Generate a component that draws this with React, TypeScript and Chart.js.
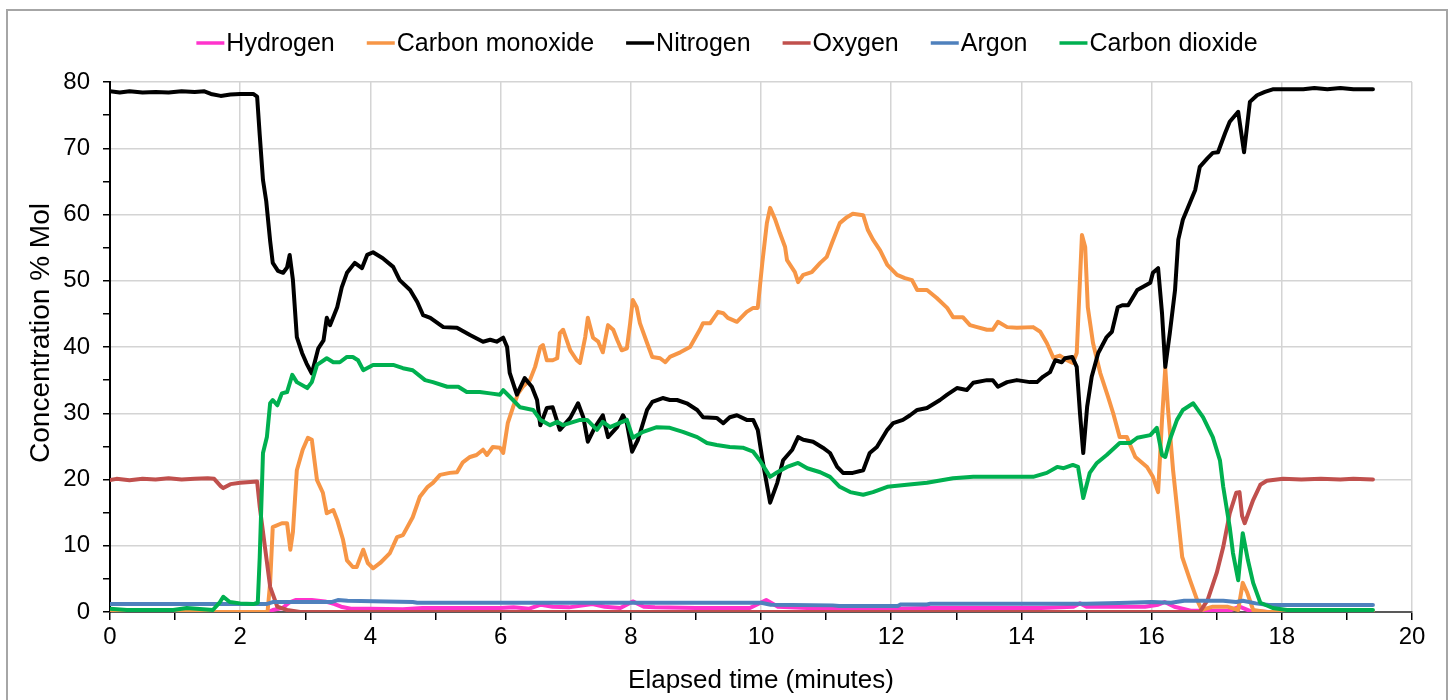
import React, { useEffect, useRef } from "react";
import { Chart, registerables } from "chart.js";

Chart.register(...registerables);

type Pt = [number, number];

const seriesNames = ["Hydrogen", "Carbon monoxide", "Nitrogen", "Oxygen", "Argon", "Carbon dioxide"];
const seriesColors = ["#ff33cc", "#f79646", "#000000", "#c0504d", "#4f81bd", "#00b050"];

const xTickLabels = ["0", "2", "4", "6", "8", "10", "12", "14", "16", "18", "20"];
const yTickLabels = ["0", "10", "20", "30", "40", "50", "60", "70", "80"];
const xAxisTitle = "Elapsed time (minutes)";
const yAxisTitle = "Concentration % Mol";

const hydrogen: Pt[] = [
  [0, 0], [2.42, 0], [2.5, 0.3], [2.65, 0.6], [2.75, 1.4], [2.85, 1.8], [3.1, 1.8], [3.3, 1.6], [3.45, 1.2],
  [3.55, 0.8], [3.7, 0.5], [4.0, 0.5], [4.5, 0.4], [4.8, 0.6], [5.5, 0.6], [6.0, 0.6], [6.2, 0.7], [6.44, 0.5],
  [6.62, 1.1], [6.8, 0.8], [7.05, 0.7], [7.41, 1.2], [7.6, 0.8], [7.84, 0.6], [8.03, 1.6], [8.2, 0.8], [8.37, 0.7],
  [9.0, 0.6], [9.83, 0.6], [10.08, 1.8], [10.26, 0.8], [10.98, 0.5], [11.78, 0.4], [12.5, 0.6], [13.7, 0.6],
  [14.3, 0.6], [14.8, 0.8], [14.9, 1.3], [15.0, 0.8], [15.9, 0.8], [16.1, 1.1], [16.2, 1.5], [16.35, 0.8],
  [16.6, 0.2], [17.2, 0.2], [17.35, 0.8], [17.5, 0.2], [17.8, 0], [19.4, 0],
];

const carbonMonoxide: Pt[] = [
  [0, 0], [2.42, 0], [2.46, 4.4], [2.5, 12.8], [2.64, 13.4], [2.72, 13.4], [2.77, 9.4], [2.81, 12.1], [2.87, 21.4],
  [2.96, 24.5], [3.04, 26.3], [3.1, 26], [3.18, 19.9], [3.27, 18], [3.33, 14.9], [3.43, 15.4], [3.49, 13.9],
  [3.58, 10.9], [3.64, 7.8], [3.73, 6.8], [3.79, 6.8], [3.89, 9.4], [3.96, 7.4], [4.04, 6.6], [4.15, 7.4],
  [4.3, 8.9], [4.41, 11.3], [4.5, 11.6], [4.65, 14.3], [4.76, 17.4], [4.88, 18.9], [4.96, 19.5], [5.07, 20.7],
  [5.22, 21], [5.33, 21.1], [5.42, 22.6], [5.53, 23.4], [5.63, 23.7], [5.73, 24.5], [5.79, 23.7], [5.88, 24.9],
  [5.99, 24.8], [6.04, 24], [6.11, 28.5], [6.19, 30.9], [6.27, 33], [6.34, 34], [6.45, 35], [6.53, 37], [6.61, 40],
  [6.65, 40.3], [6.71, 38], [6.8, 38], [6.87, 38.3], [6.91, 42.1], [6.96, 42.6], [7.07, 39.5], [7.17, 38],
  [7.22, 37.6], [7.3, 41.5], [7.34, 44.4], [7.42, 41.4], [7.5, 40.8], [7.57, 39.2], [7.65, 43.3], [7.73, 42.6],
  [7.79, 41.1], [7.86, 39.5], [7.94, 39.8], [7.99, 43.6], [8.03, 47.1], [8.09, 46], [8.14, 43.6], [8.25, 40.6],
  [8.33, 38.5], [8.45, 38.3], [8.53, 37.7], [8.6, 38.5], [8.76, 39.2], [8.91, 40], [9.06, 42.6], [9.11, 43.6],
  [9.22, 43.6], [9.34, 45.3], [9.42, 45.1], [9.49, 44.4], [9.63, 43.8], [9.78, 45.3], [9.88, 45.9], [9.95, 45.9],
  [10.02, 52.7], [10.09, 58.7], [10.14, 61], [10.22, 59.2], [10.29, 57.2], [10.37, 55.1], [10.4, 53.1],
  [10.52, 51.3], [10.57, 49.8], [10.65, 50.9], [10.78, 51.3], [10.91, 52.7], [11.01, 53.6], [11.09, 55.7],
  [11.21, 58.7], [11.32, 59.6], [11.41, 60.1], [11.57, 59.9], [11.64, 57.7], [11.72, 56.2], [11.83, 54.6],
  [11.94, 52.4], [12.09, 50.9], [12.21, 50.4], [12.32, 50.1], [12.4, 48.6], [12.55, 48.6], [12.7, 47.4],
  [12.86, 45.9], [12.95, 44.5], [13.1, 44.5], [13.21, 43.3], [13.32, 43], [13.47, 42.6], [13.56, 42.6],
  [13.64, 43.8], [13.78, 43], [13.93, 42.9], [14.18, 43], [14.29, 42.3], [14.39, 40.6], [14.49, 38.4],
  [14.59, 38.7], [14.7, 38], [14.79, 37.6], [14.85, 39.1], [14.93, 56.9], [14.98, 55.1], [15.02, 46],
  [15.1, 40.6], [15.21, 36.1], [15.33, 32.5], [15.41, 30], [15.51, 26.4], [15.62, 26.4], [15.75, 23.4],
  [15.93, 21.9], [16.02, 20.4], [16.1, 18.1], [16.16, 29], [16.21, 36.8], [16.25, 30.9], [16.33, 21.4],
  [16.47, 8.3], [16.59, 4.8], [16.7, 1.8], [16.77, 0.3], [16.94, 0.8], [17.16, 0.8], [17.33, 0.3], [17.4, 4.4],
  [17.47, 2.9], [17.56, 0.3], [17.77, 0], [19.4, 0],
];

const nitrogen: Pt[] = [
  [0, 78.6], [0.15, 78.4], [0.3, 78.6], [0.5, 78.4], [0.7, 78.5], [0.9, 78.4], [1.1, 78.6], [1.3, 78.5],
  [1.45, 78.6], [1.55, 78.2], [1.7, 77.9], [1.85, 78.1], [2.0, 78.2], [2.2, 78.2], [2.26, 77.8], [2.3, 72],
  [2.35, 65.2], [2.4, 62], [2.46, 56], [2.5, 52.7], [2.58, 51.5], [2.66, 51.2], [2.72, 52], [2.76, 53.9],
  [2.81, 50.1], [2.87, 41.5], [2.95, 39.1], [3.02, 37.5], [3.1, 36.0], [3.2, 39.8], [3.28, 41], [3.33, 44.4],
  [3.38, 43.3], [3.49, 46], [3.56, 49], [3.64, 51.2], [3.76, 52.7], [3.87, 51.9], [3.95, 53.9], [4.04, 54.3],
  [4.19, 53.4], [4.35, 52.1], [4.45, 50.1], [4.61, 48.6], [4.72, 46.8], [4.81, 44.8], [4.92, 44.4], [5.12, 43.0],
  [5.33, 42.9], [5.53, 41.8], [5.73, 40.8], [5.84, 41.1], [5.94, 40.8], [6.04, 41.4], [6.1, 40], [6.14, 36.1],
  [6.25, 32.8], [6.37, 35.3], [6.48, 34], [6.56, 32], [6.61, 28.2], [6.71, 30.8], [6.8, 30.9], [6.91, 27.5],
  [7.07, 29.3], [7.19, 31.5], [7.27, 29.4], [7.34, 25.7], [7.45, 27.9], [7.57, 29.7], [7.65, 26.4], [7.79, 27.9],
  [7.88, 29.7], [7.94, 28.5], [8.02, 24.2], [8.11, 26], [8.25, 30.5], [8.33, 31.7], [8.49, 32.3], [8.6, 32],
  [8.71, 32], [8.86, 31.5], [9.02, 30.5], [9.11, 29.4], [9.32, 29.3], [9.42, 28.5], [9.52, 29.4], [9.63, 29.7],
  [9.78, 29], [9.88, 29], [9.95, 27.5], [10.03, 22.5], [10.14, 16.5], [10.25, 19.5], [10.34, 22.9], [10.48, 24.5],
  [10.57, 26.4], [10.65, 26], [10.8, 25.7], [10.95, 24.8], [11.06, 24], [11.17, 21.9], [11.26, 21], [11.41, 21],
  [11.57, 21.4], [11.67, 24], [11.78, 24.9], [11.94, 27.5], [12.03, 28.5], [12.18, 29], [12.29, 29.7],
  [12.4, 30.5], [12.55, 30.8], [12.75, 32], [12.86, 32.8], [13.01, 33.8], [13.16, 33.5], [13.26, 34.6],
  [13.47, 35], [13.56, 35], [13.64, 34], [13.78, 34.7], [13.93, 35], [14.13, 34.7], [14.24, 34.7], [14.33, 35.5],
  [14.44, 36.2], [14.52, 38.0], [14.62, 37.7], [14.67, 38.3], [14.78, 38.5], [14.85, 37], [14.9, 30], [14.95, 24],
  [15.01, 31], [15.08, 35.5], [15.18, 39.1], [15.31, 41.5], [15.39, 42.3], [15.48, 46], [15.55, 46.3],
  [15.64, 46.3], [15.78, 48.6], [15.98, 49.7], [16.02, 51.2], [16.1, 51.9], [16.16, 45.1], [16.21, 37],
  [16.28, 42.1], [16.36, 48.6], [16.41, 56.2], [16.48, 59.2], [16.56, 61.1], [16.67, 63.7], [16.74, 67.2],
  [16.86, 68.5], [16.94, 69.3], [17.02, 69.4], [17.13, 72.3], [17.2, 74], [17.33, 75.5], [17.42, 69.4],
  [17.51, 77], [17.62, 78], [17.74, 78.5], [17.86, 78.9], [18.33, 78.9], [18.5, 79.1], [18.7, 78.9], [18.9, 79.1],
  [19.1, 78.9], [19.4, 78.9],
];

const oxygen: Pt[] = [
  [0, 19.9], [0.1, 20.1], [0.3, 19.9], [0.5, 20.1], [0.7, 20.0], [0.9, 20.2], [1.1, 20.0], [1.3, 20.1],
  [1.5, 20.2], [1.6, 20.1], [1.7, 19.0], [1.74, 18.7], [1.85, 19.3], [2.0, 19.5], [2.26, 19.7], [2.3, 15.9],
  [2.38, 9.8], [2.46, 3.8], [2.57, 0.8], [2.72, 0.3], [2.92, 0], [16.74, 0], [16.86, 1.8], [17.0, 5.9],
  [17.1, 9.8], [17.2, 14.9], [17.3, 18], [17.35, 18.1], [17.39, 14.5], [17.43, 13.4], [17.56, 16.9],
  [17.67, 19.2], [17.77, 19.8], [18.02, 20.1], [18.3, 20.0], [18.6, 20.1], [18.9, 20.0], [19.1, 20.1], [19.4, 20.0],
];

const argon: Pt[] = [
  [0, 1.2], [2.4, 1.2], [2.5, 1.5], [3.4, 1.5], [3.5, 1.8], [3.65, 1.7], [4.65, 1.5], [4.72, 1.4], [10.0, 1.4],
  [10.15, 1.1], [11.1, 1.0], [11.2, 0.9], [12.1, 0.9], [12.15, 1.15], [12.55, 1.15], [12.6, 1.25], [15.0, 1.25],
  [15.5, 1.35], [16.0, 1.5], [16.3, 1.4], [16.5, 1.7], [17.1, 1.7], [17.3, 1.5], [17.4, 1.7], [17.6, 1.3],
  [17.8, 1.05], [19.4, 1.05],
];

const carbonDioxide: Pt[] = [
  [0, 0.5], [0.26, 0.3], [0.97, 0.3], [1.18, 0.6], [1.58, 0.3], [1.69, 1.5], [1.74, 2.3], [1.84, 1.5], [2.0, 1.3],
  [2.2, 1.2], [2.27, 1.4], [2.3, 8.3], [2.35, 24], [2.41, 26.4], [2.46, 31.5], [2.5, 32], [2.57, 31.2], [2.64, 33],
  [2.72, 33.2], [2.8, 35.8], [2.87, 34.7], [3.03, 33.8], [3.1, 34.7], [3.18, 37.3], [3.33, 38.3], [3.43, 37.7],
  [3.53, 37.7], [3.64, 38.5], [3.73, 38.5], [3.81, 38], [3.89, 36.5], [4.04, 37.3], [4.19, 37.3], [4.35, 37.3],
  [4.5, 36.8], [4.65, 36.5], [4.84, 35], [4.96, 34.7], [5.18, 34], [5.35, 34], [5.48, 33.2], [5.68, 33.2],
  [5.84, 33], [5.99, 32.8], [6.04, 33.5], [6.19, 32], [6.3, 30.9], [6.5, 30.5], [6.61, 29], [6.76, 28.2],
  [6.87, 28.7], [6.96, 28.2], [7.22, 29], [7.33, 29], [7.48, 27.5], [7.57, 28.7], [7.68, 27.9], [7.94, 29],
  [8.03, 26.3], [8.19, 27.2], [8.4, 27.9], [8.6, 27.8], [8.8, 27.2], [9.02, 26.4], [9.17, 25.5], [9.32, 25.2],
  [9.52, 24.9], [9.72, 24.8], [9.88, 24.2], [9.98, 22.9], [10.14, 20.4], [10.25, 21.1], [10.4, 21.9],
  [10.57, 22.5], [10.71, 21.7], [10.91, 21.1], [11.06, 20.4], [11.21, 18.9], [11.37, 18.1], [11.57, 17.7],
  [11.72, 18.1], [11.94, 18.9], [12.24, 19.2], [12.55, 19.5], [12.95, 20.2], [13.26, 20.4], [13.56, 20.4],
  [13.98, 20.4], [14.18, 20.4], [14.39, 21], [14.55, 21.9], [14.65, 21.7], [14.79, 22.2], [14.87, 21.9],
  [14.95, 17.2], [15.05, 21], [15.16, 22.5], [15.31, 23.7], [15.51, 25.5], [15.67, 25.5], [15.78, 26.3],
  [15.98, 26.7], [16.08, 27.8], [16.16, 23.7], [16.21, 23.4], [16.28, 26], [16.39, 29], [16.48, 30.5],
  [16.64, 31.5], [16.79, 29.4], [16.94, 26.4], [17.05, 22.9], [17.1, 18.9], [17.2, 12.8], [17.25, 8.9],
  [17.33, 4.8], [17.4, 11.9], [17.48, 7.8], [17.56, 4.4], [17.67, 1.4], [17.86, 0.6], [18.08, 0.3], [19.4, 0.3],
];

const seriesData: Pt[][] = [hydrogen, carbonMonoxide, nitrogen, oxygen, argon, carbonDioxide];

const FONT_FAMILY = '"Liberation Sans", Arial, sans-serif';

const decorPlugin = {
  id: "decor",
  beforeDraw(chart: any) {
    const ctx = chart.ctx;
    ctx.save();
    ctx.fillStyle = "#ffffff";
    ctx.fillRect(0, 0, chart.width, chart.height);
    ctx.restore();
  },
  afterDraw(chart: any) {
    const ctx = chart.ctx as CanvasRenderingContext2D;
    ctx.save();
    // outer frame
    ctx.strokeStyle = "#a6a6a6";
    ctx.lineWidth = 2;
    ctx.strokeRect(7, 10, 1440, 720);
    // y axis title
    ctx.save();
    ctx.font = `28px ${FONT_FAMILY}`;
    ctx.fillStyle = "#000";
    ctx.textAlign = "center";
    ctx.textBaseline = "middle";
    ctx.translate(41, 333);
    ctx.rotate(-Math.PI / 2);
    ctx.fillText(yAxisTitle, 0, 0);
    ctx.restore();
    // legend
    ctx.font = `25px ${FONT_FAMILY}`;
    const markerW = 28;
    const markerGap = 2;
    const itemGap = 32;
    const widths = seriesNames.map((n) => ctx.measureText(n).width);
    const total = widths.reduce((a, w) => a + markerW + markerGap + w, 0) + itemGap * (seriesNames.length - 1);
    let x = 727 - total / 2;
    const y = 43;
    ctx.textBaseline = "middle";
    ctx.textAlign = "left";
    seriesNames.forEach((n, i) => {
      ctx.strokeStyle = seriesColors[i];
      ctx.lineWidth = 3.5;
      ctx.beginPath();
      ctx.moveTo(x, y);
      ctx.lineTo(x + markerW, y);
      ctx.stroke();
      ctx.fillStyle = "#000";
      ctx.fillText(n, x + markerW + markerGap, y + 1);
      x += markerW + markerGap + widths[i] + itemGap;
    });
    ctx.restore();
  },
};

export default function App() {
  const ref = useRef<HTMLCanvasElement>(null);
  useEffect(() => {
    const canvas = ref.current;
    if (!canvas) return;
    Chart.defaults.font.family = FONT_FAMILY;
    const tickFont = { family: FONT_FAMILY, size: 24 };
    const titleFont = { family: FONT_FAMILY, size: 26 };
    const chart = new Chart(canvas, {
      type: "line",
      data: {
        datasets: seriesData.map((pts, i) => ({
          label: seriesNames[i],
          data: pts.map(([x, y]) => ({ x, y })),
          borderColor: seriesColors[i],
          backgroundColor: seriesColors[i],
          borderWidth: 4,
          pointRadius: 0,
          tension: 0,
          fill: false,
          order: seriesNames.length - 1 - i,
        })),
      },
      options: {
        animation: false,
        responsive: false,
        layout: { padding: { left: 0, right: 38, top: 82, bottom: 0 } },
        plugins: { legend: { display: false }, tooltip: { enabled: false } },
        elements: { line: { borderCapStyle: "round", borderJoinStyle: "round" } },
        scales: {
          x: {
            type: "linear",
            min: 0,
            max: 20,
            ticks: {
              stepSize: 1,
              autoSkip: false,
              maxRotation: 0,
              padding: 3,
              color: "#000",
              font: tickFont,
              callback: (v: any) => {
                const idx = xTickLabels.indexOf(String(v));
                return idx >= 0 ? xTickLabels[idx] : "";
              },
            },
            grid: {
              color: (c: any) => (c.tick && c.tick.value % 2 === 0 ? "#d4d4d4" : "rgba(0,0,0,0)"),
              lineWidth: 1.5,
              tickColor: "#000",
              tickLength: 8,
              tickWidth: 1.5,
            },
            border: { color: "#595959", width: 2 },
            title: {
              display: true,
              text: xAxisTitle,
              color: "#000",
              font: titleFont,
              padding: { top: 0, bottom: 4 },
            },
            afterFit: (s: any) => {
              s.height = 88;
            },
          },
          y: {
            type: "linear",
            min: 0,
            max: 80,
            ticks: {
              stepSize: 5,
              padding: 13,
              color: "#000",
              font: tickFont,
              callback: (v: any) => {
                const idx = yTickLabels.indexOf(String(v));
                return idx >= 0 ? yTickLabels[idx] : "";
              },
            },
            grid: {
              color: (c: any) => (c.tick && c.tick.value % 10 === 0 ? "#d4d4d4" : "rgba(0,0,0,0)"),
              lineWidth: 1.5,
              tickColor: "#000",
              tickLength: 7,
              tickWidth: 1.5,
            },
            border: { color: "#000", width: 2 },
            title: { display: false },
            afterFit: (s: any) => {
              s.width = 110;
            },
          },
        },
      },
      plugins: [decorPlugin],
    } as any);
    return () => chart.destroy();
  }, []);
  return (
    <div style={{ position: "absolute", left: 0, top: 0, width: 1450, height: 700, overflow: "hidden" }}>
      <canvas ref={ref} width={1450} height={700} style={{ display: "block" }} />
    </div>
  );
}
